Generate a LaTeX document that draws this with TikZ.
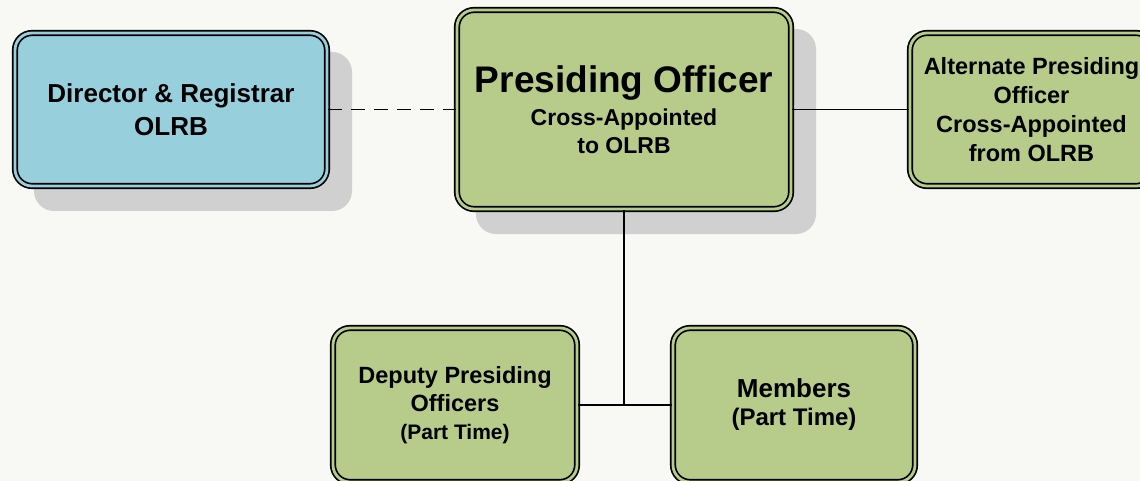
\documentclass[tikz,border=0pt]{standalone}
\usepackage{fontspec}
\setmainfont{Liberation Sans}
\usetikzlibrary{shadows}
\definecolor{boxgreen}{RGB}{183,204,138}
\definecolor{boxblue}{RGB}{152,207,220}
\definecolor{shadowgray}{RGB}{208,208,208}
\definecolor{paper}{RGB}{248,249,245}
\newcommand{\fsz}[2]{\fontsize{#1}{#2}\selectfont}

\begin{document}
\begin{tikzpicture}[x=1pt, y=-1pt]
	\tikzstyle{every node}=[inner sep=1pt, align=center, font=\bfseries]
	\tikzstyle{box}=[draw, rounded corners=17pt, line width=1.7pt, double=boxgreen, double distance=2.8pt, fill=boxgreen]
	\tikzstyle{shade}=[general shadow={draw=shadowgray, fill=shadowgray, line width=6pt, shadow xshift=22pt, shadow yshift=-22pt}]
	\tikzstyle{link}=[line width=1.9pt]
	\clip (0, 0) rectangle (1140, 481);
	\fill [paper] (0, 0) rectangle (1140, 481);
	\node (D) [box, shade, fill=boxblue, double=boxblue, minimum width=312pt, minimum height=153pt, font=\bfseries\fsz{26}{33}] at (171, 109.5) {Director \& Registrar\\OLRB};
	\node (P) [box, shade, minimum width=334pt, minimum height=199pt, font=\bfseries\fsz{23}{28}] at (624, 109.5) {{\fsz{37}{38}Presiding Officer}\\[5pt]Cross-Appointed\\to OLRB};
	\node (A) [box, minimum width=243pt, minimum height=153pt, font=\bfseries\fsz{23.5}{29}] at (1031.5, 109.5) {Alternate Presiding\\Officer\\Cross-Appointed\\from OLRB};
	\node (DP) [box, minimum width=244pt, minimum height=154pt, font=\bfseries\fsz{23.5}{28}] at (455, 405) {Deputy Presiding\\Officers\\{\fsz{21}{26}(Part Time)}};
	\node (M) [box, minimum width=242pt, minimum height=154pt, font=\bfseries\fsz{24}{28}] at (794, 405) {{\fsz{26}{28}Members}\\(Part Time)};
	\coordinate (J) at (624, 405);
	\draw [link, dash pattern=on 14pt off 9pt] (D) -- (P);
	\draw [link] (P) -- (A);
	\draw [link] (P) -- (J);
	\draw [link] (DP) -- (M);
\end{tikzpicture}
\end{document}
